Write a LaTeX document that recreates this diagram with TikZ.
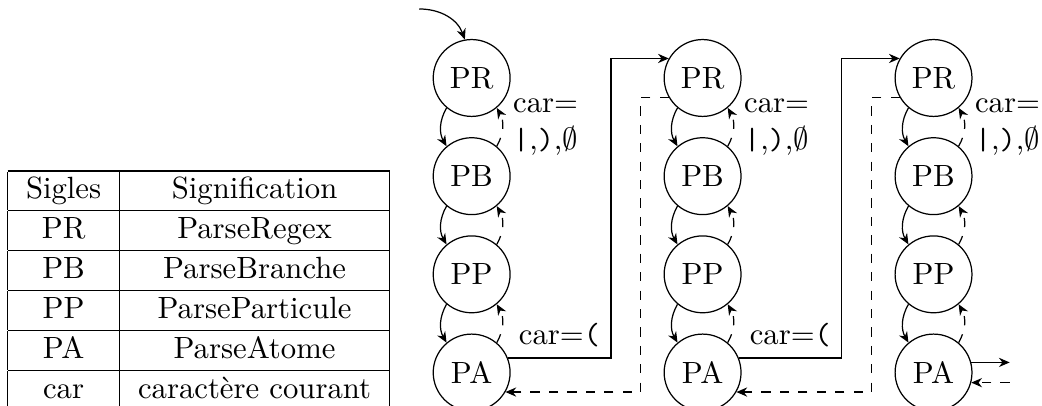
\documentclass[tikz,border=0pt]{standalone}
\usepackage{amsmath,amssymb}
\usetikzlibrary{arrows.meta,positioning}
\renewcommand{\arraystretch}{1.05}

\begin{document}
\begin{tikzpicture}[node distance=2.3mm and 17.5mm,
      >={Stealth[length=3.5pt,width=3pt]},
      state/.style={draw, circle, minimum size=8.8mm},
      call/.style={->, bend right},
      back/.style={->, dashed, bend right}]
    \useasboundingbox (-5.40,-3.755) rectangle (6.53,0.893);
    % legend
    \node[anchor=north west, inner sep=0pt] (tab) at (-5.32,-1.05) {%
      \begin{tabular}{|c|c|}
        \hline
        Sigles & Signification\\ \hline
        PR & ParseRegex\\ \hline
        PB & ParseBranche\\ \hline
        PP & ParseParticule\\ \hline
        PA & ParseAtome\\ \hline
        car & caractère courant\\ \hline
      \end{tabular}};
    % three recursion levels
    \node[state] (PR1) at (0,0) {PR};
    \node[state, below=of PR1] (PB1) {PB};
    \node[state, below=of PB1] (PP1) {PP};
    \node[state, below=of PP1] (PA1) {PA};
    \node[state, right=of PR1] (PR2) {PR};
    \node[state, below=of PR2] (PB2) {PB};
    \node[state, below=of PB2] (PP2) {PP};
    \node[state, below=of PP2] (PA2) {PA};
    \node[state, right=of PR2] (PR3) {PR};
    \node[state, below=of PR3] (PB3) {PB};
    \node[state, below=of PB3] (PP3) {PP};
    \node[state, below=of PP3] (PA3) {PA};
    \coordinate (init) at (-0.6,0.79);
    \coordinate (exit) at ([xshift=4.4mm]PA3.15);
    \coordinate (ret) at (exit |- PA3.345);
    \draw[->] (init) to[out=0, in=110] (PR1.100);
    % level 1
    \draw[call] (PR1.230) to (PB1.130);
    \draw[call] (PB1.230) to (PP1.130);
    \draw[call] (PP1.230) to (PA1.130);
    \draw[back] (PB1.50) to node[right, align=left]{car=\\\texttt{|},\texttt{)},$\emptyset$} (PR1.310);
    \draw[back] (PP1.50) to (PB1.310);
    \draw[back] (PA1.50) to (PP1.310);
    % level 2
    \draw[call] (PR2.230) to (PB2.130);
    \draw[call] (PB2.230) to (PP2.130);
    \draw[call] (PP2.230) to (PA2.130);
    \draw[back] (PB2.50) to node[right, align=left]{car=\\\texttt{|},\texttt{)},$\emptyset$} (PR2.310);
    \draw[back] (PP2.50) to (PB2.310);
    \draw[back] (PA2.50) to (PP2.310);
    % level 3
    \draw[call] (PR3.230) to (PB3.130);
    \draw[call] (PB3.230) to (PP3.130);
    \draw[call] (PP3.230) to (PA3.130);
    \draw[back] (PB3.50) to node[right, align=left]{car=\\\texttt{|},\texttt{)},$\emptyset$} (PR3.310);
    \draw[back] (PP3.50) to (PB3.310);
    \draw[back] (PA3.50) to (PP3.310);
    % going down one level and coming back
    \draw[->] (PA1.22) -- node[above]{car=\texttt{(}} ++(1.18,0) |- (PR2.150);
    \draw[->, dashed] (PR2.210) -- ++(-0.32,0) |- (PA1.330);
    \draw[->] (PA2.22) -- node[above]{car=\texttt{(}} ++(1.18,0) |- (PR3.150);
    \draw[->, dashed] (PR3.210) -- ++(-0.32,0) |- (PA2.330);
    \draw[->] (PA3.15) -- (exit);
    \draw[->, dashed] (ret) -- (PA3.345);
  \end{tikzpicture}
\end{document}
